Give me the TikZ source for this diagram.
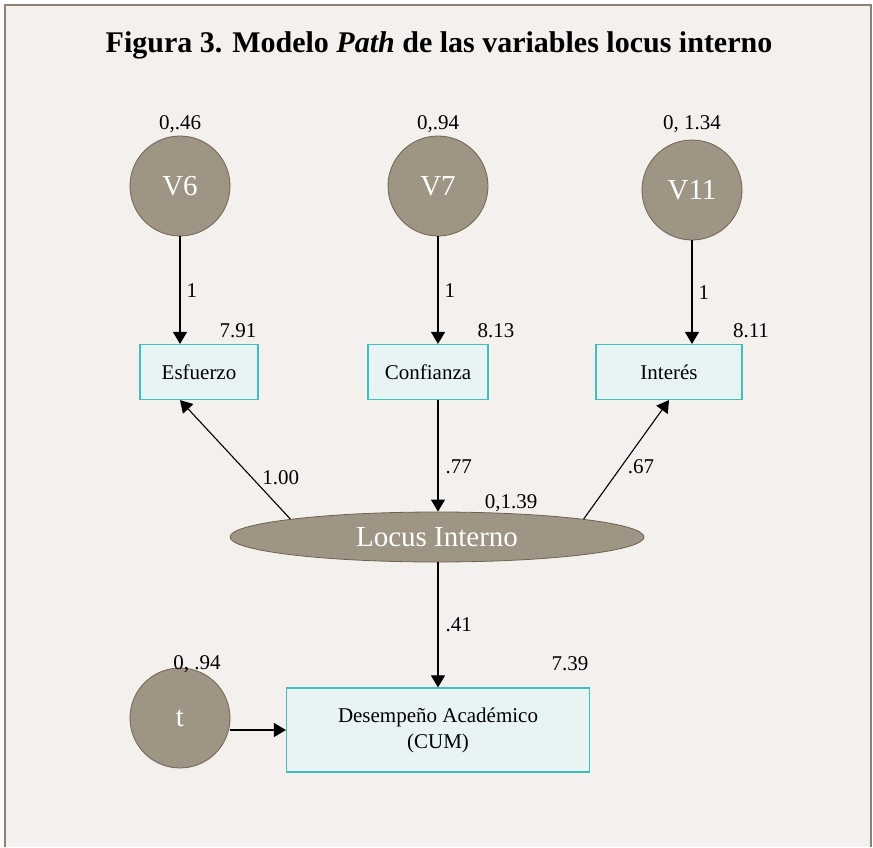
\documentclass[tikz,border=0pt]{standalone}
\usepackage{fontspec}
\setmainfont{Liberation Serif}
\usetikzlibrary{arrows.meta,shapes.geometric}

\begin{document}
\begin{tikzpicture}[x=1pt,y=-1pt]
    \definecolor{fig_bg}{HTML}{F4F0ED}
    \definecolor{fig_frame}{HTML}{8C8272}
    \definecolor{lat_fill}{HTML}{9E9584}
    \definecolor{lat_line}{HTML}{6E6352}
    \definecolor{obs_fill}{HTML}{E8F4F4}
    \definecolor{obs_line}{HTML}{3EC0C0}
    \tikzset{
        latent/.style={circle, fill=lat_fill, draw=lat_line, line width=0.8pt,
            minimum size=100pt, inner sep=0pt, text=white, font=\fontsize{29}{32}\selectfont},
        observed/.style={rectangle, fill=obs_fill, draw=obs_line, line width=1.2pt,
            inner sep=0pt, font=\fontsize{21}{26}\selectfont, align=center},
        val/.style={font=\fontsize{21}{24}\selectfont, inner sep=1pt},
        path/.style={-{Triangle[width=14pt,length=12pt]}, line width=1.1pt},
    }
    %\draw[help lines] (0,0) grid (873,847);

    \useasboundingbox (0,0) rectangle (873,847);
    \fill[fig_bg] (5,5) rectangle (871,847);
    \draw[fig_frame, line width=2.2pt] (5,847) -- (5,5) -- (871,5) -- (871,847);

    \node (title) at (439,45) {\fontsize{30}{34}\selectfont\bfseries Figura 3. Modelo \textit{Path} de las variables locus interno};

    % error terms
    \node[latent] (v6) at (180,186) {V6};
    \node[latent] (v7) at (438,186) {V7};
    \node[latent] (v11) at (692,190) {V11};
    \node[latent] (t) at (180,718) {t};
    \node[val] (v6var) at (180,124) {0,.46};
    \node[val] (v7var) at (438,124) {0,.94};
    \node[val] (v11var) at (692,124) {0, 1.34};
    \node[val] (tvar) at (197,664) {0, .94};

    % observed variables
    \node[observed, minimum width=118pt, minimum height=55pt] (esf) at (199,372) {Esfuerzo};
    \node[observed, minimum width=120pt, minimum height=55pt] (conf) at (428,372) {Confianza};
    \node[observed, minimum width=146pt, minimum height=55pt] (inter) at (669,372) {Interés};
    \node[observed, minimum width=303pt, minimum height=84pt] (cum) at (438,730) {Desempeño Académico\\(CUM)};
    \node[val] (esfint) at (238,331) {7.91};
    \node[val] (confint) at (496,331) {8.13};
    \node[val] (interint) at (751,331) {8.11};
    \node[val] (cumint) at (570,664) {7.39};

    % latent factor
    \node[ellipse, fill=lat_fill, draw=lat_line, line width=0.8pt, minimum width=414pt,
        minimum height=50pt, inner sep=0pt, text=white, font=\fontsize{29}{32}\selectfont] (loc) at (437,537) {Locus Interno};
    \node[val] (locvar) at (511,503) {0,1.39};

    % paths
    \draw[path] (v6.south) -- (v6.south |- esf.north) node[val, midway, right=5pt] {1};
    \draw[path] (v7.south) -- (v7.south |- conf.north) node[val, midway, right=5pt] {1};
    \draw[path] (v11.south) -- (v11.south |- inter.north) node[val, midway, right=5pt] {1};
    \draw[path] (loc.north west) -- ([xshift=-19pt]esf.south) node[val, pos=0.35, right=9pt] {1.00};
    \draw[path] (v7.south |- conf.south) -- (v7.south |- loc.north) node[val, pos=0.6, right=6pt] {.77};
    \draw[path] (loc.north east) -- (inter.south) node[val, pos=0.44, right=5pt] {.67};
    \draw[path] (v7.south |- loc.south) -- (v7.south |- cum.north) node[val, midway, right=6pt] {.41};
    \draw[path] (t.east |- cum.west) -- (cum.west);
\end{tikzpicture}
\end{document}
